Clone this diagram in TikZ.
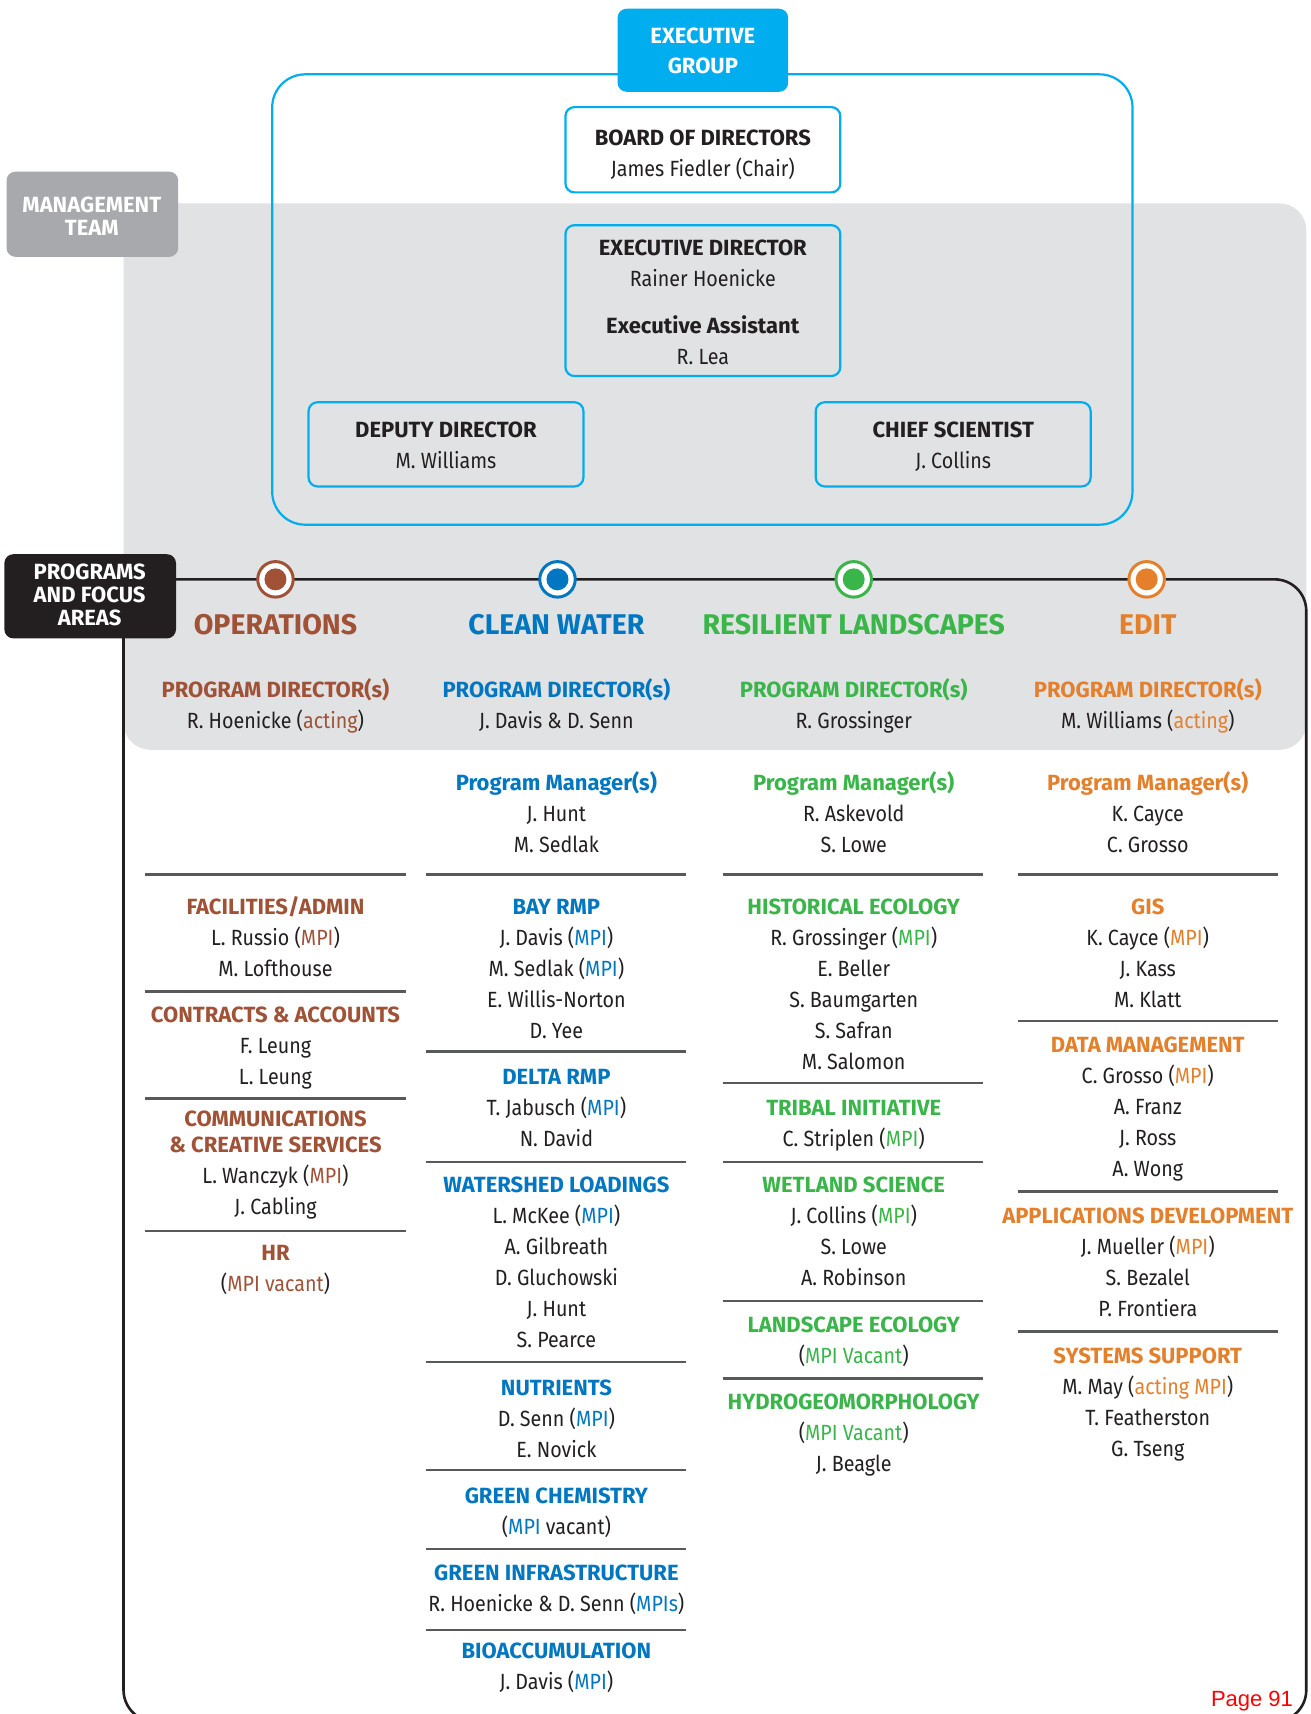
\documentclass[tikz,border=0pt]{standalone}
\usepackage{fontspec}
\setmainfont{Fira Sans}[UprightFeatures={FakeStretch=0.895}, BoldFeatures={FakeStretch=1.0}]
\newfontfamily\pagefont{Liberation Sans}
\definecolor{cyanx}{RGB}{0,174,239}
\definecolor{ops}{RGB}{160,82,55}
\definecolor{cw}{RGB}{0,119,192}
\definecolor{rl}{RGB}{57,181,74}
\definecolor{ed}{RGB}{228,128,44}
\definecolor{band}{RGB}{225,226,228}
\definecolor{mgmt}{RGB}{167,169,172}
\definecolor{ink}{RGB}{35,31,32}
\definecolor{sepc}{RGB}{88,89,91}
\newcommand\fbody{\fontsize{22}{31}\selectfont}
\newcommand\fwhite{\bfseries\fontsize{22}{23}\selectfont}
\newcommand\ftitle{\bfseries\fontsize{28.5}{31}\selectfont}
\newcommand\st{\rule{0pt}{24pt}}
\newcommand\hd[2]{\textcolor{#1}{\bfseries #2}}
\newcommand\mpiof[1]{\textcolor{#1}{MPI}}
\begin{document}
\begin{tikzpicture}[x=1.0934pt,y=-1.0934pt,
  blk/.style={anchor=north, inner sep=0pt, align=center, font=\fbody, text=ink, yshift=24pt},
  ttl/.style={anchor=north, inner sep=0pt, align=center, font=\ftitle, yshift=24pt},
  wbox/.style={draw=cyanx, line width=2.2pt, rounded corners=9pt, inner sep=0pt, minimum width=275pt},
  sepline/.style={draw=sepc, line width=2.2pt},
  ring/.style={circle, draw=#1, line width=3pt, fill=white, minimum size=35.5pt, inner sep=0pt},
  dot/.style={circle, fill=#1, minimum size=22pt, inner sep=0pt}]
\useasboundingbox (0,0) rectangle (1199,1568);
\clip (0,0) rectangle (1199,1568);
\fill[white] (0,0) rectangle (1199,1568);

% grey band
\fill[band, rounded corners=27pt] (113,186) rectangle (1195,686);

% outer executive frame
\draw[cyanx, line width=2.2pt, rounded corners=33pt] (249,68) rectangle (1036,480);

% programs frame
\draw[ink, line width=2.6pt, rounded corners=31.7pt] (113,530) rectangle (1195,1575);

% executive group
\node[fill=cyanx, rounded corners=9pt, minimum width=170.6pt, minimum height=83.1pt, inner sep=0pt] (eg) at (643,46) {};
\node[blk, text=white, font=\fwhite] (egt) at (643,40) {\st EXECUTIVE\\[6.5pt]GROUP};

% boxes
\node[wbox, fill=white, minimum height=85.3pt] (board) at (643,137) {};
\node[wbox, minimum height=150.9pt] (exec) at (643,275) {};
\node[wbox, minimum height=84.2pt] (dep) at (408,406.5) {};
\node[wbox, minimum height=84.2pt] (chief) at (872,406.5) {};

\node[blk] (boardt) at (643,133) {\st\textbf{BOARD OF DIRECTORS}\\James Fiedler (Chair)};
\node[blk] (exect) at (643,234) {\st\textbf{EXECUTIVE DIRECTOR}\\Rainer Hoenicke\\[15.3pt]\textbf{Executive Assistant}\\R. Lea};
\node[blk] (dept) at (408,400) {\st\textbf{DEPUTY DIRECTOR}\\M. Williams};
\node[blk] (chieft) at (872,400) {\st\textbf{CHIEF SCIENTIST}\\J. Collins};

% side labels
\node[fill=mgmt, rounded corners=9pt, minimum width=171.7pt, minimum height=85.3pt, inner sep=0pt] (mg) at (84.5,196) {};
\node[blk, text=white, font=\fwhite] (mgt) at (84,194) {\st MANAGEMENT\\TEAM};
\node[fill=ink, rounded corners=9pt, minimum width=171.7pt, minimum height=84.2pt, inner sep=0pt] (pg) at (82.5,545.5) {};
\node[blk, text=white, font=\fwhite] (pgt) at (82,530) {\st PROGRAMS\\AND FOCUS\\AREAS};

% circles
\node[ring=ops] (c1) at (252,530) {}; \node[dot=ops] (d1) at (c1) {};
\node[ring=cw] (c2) at (510,530) {}; \node[dot=cw] (d2) at (c2) {};
\node[ring=rl] (c3) at (781,530) {}; \node[dot=rl] (d3) at (c3) {};
\node[ring=ed] (c4) at (1049,530) {}; \node[dot=ed] (d4) at (c4) {};

% titles
\node[ttl, text=ops] (t1) at (252,580) {\st OPERATIONS};
\node[ttl, text=cw] (t2) at (509,580) {\st CLEAN WATER};
\node[ttl, text=rl] (t3) at (781,580) {\st RESILIENT LANDSCAPES};
\node[ttl, text=ed] (t4) at (1050,580) {\st EDIT};

% program directors
\node[blk] (pd1) at (252,638) {\st\hd{ops}{PROGRAM DIRECTOR(s)}\\R. Hoenicke (\textcolor{ops}{acting})};
\node[blk] (pd2) at (509,638) {\st\hd{cw}{PROGRAM DIRECTOR(s)}\\J. Davis \& D. Senn};
\node[blk] (pd3) at (781,638) {\st\hd{rl}{PROGRAM DIRECTOR(s)}\\R. Grossinger};
\node[blk] (pd4) at (1050,638) {\st\hd{ed}{PROGRAM DIRECTOR(s)}\\M. Williams (\textcolor{ed}{acting})};

% program managers
\node[blk] (pm2) at (509,723) {\st\hd{cw}{Program Manager(s)}\\J. Hunt\\M. Sedlak};
\node[blk] (pm3) at (781,723) {\st\hd{rl}{Program Manager(s)}\\R. Askevold\\S. Lowe};
\node[blk] (pm4) at (1050,723) {\st\hd{ed}{Program Manager(s)}\\K. Cayce\\C. Grosso};

% separators
\foreach \y in {800,907,1005,1126} \draw[sepline] (133,\y) -- (371,\y);
\foreach \y in {800,962,1063,1246,1345,1417,1491} \draw[sepline] (390,\y) -- (628,\y);
\foreach \y in {800,991,1063,1190,1261} \draw[sepline] (661,\y) -- (899,\y);
\foreach \y in {800,934,1090,1218} \draw[sepline] (931,\y) -- (1169,\y);

% operations
\node[blk] (o1) at (252,836) {\st\hd{ops}{FACILITIES/ADMIN}\\L. Russio (\mpiof{ops})\\M. Lofthouse};
\node[blk] (o2) at (252,935) {\st\hd{ops}{CONTRACTS \& ACCOUNTS}\\F. Leung\\L. Leung};
\node[blk] (o3) at (252,1030) {\st\hd{ops}{COMMUNICATIONS}\\[-4.4pt]\hd{ops}{\& CREATIVE SERVICES}\\L. Wanczyk (\mpiof{ops})\\J. Cabling};
\node[blk] (o4) at (252,1153) {\st\hd{ops}{HR}\\(\textcolor{ops}{MPI vacant})};

% clean water
\node[blk] (w1) at (509,836) {\st\hd{cw}{BAY RMP}\\J. Davis (\mpiof{cw})\\M. Sedlak (\mpiof{cw})\\E. Willis-Norton\\D. Yee};
\node[blk] (w2) at (509,992) {\st\hd{cw}{DELTA RMP}\\T. Jabusch (\mpiof{cw})\\N. David};
\node[blk] (w3) at (509,1091) {\st\hd{cw}{WATERSHED LOADINGS}\\L. McKee (\mpiof{cw})\\A. Gilbreath\\D. Gluchowski\\J. Hunt\\S. Pearce};
\node[blk] (w4) at (509,1276) {\st\hd{cw}{NUTRIENTS}\\D. Senn (\mpiof{cw})\\E. Novick};
\node[blk] (w5) at (509,1375) {\st\hd{cw}{GREEN CHEMISTRY}\\(\mpiof{cw} vacant)};
\node[blk] (w6) at (509,1446) {\st\hd{cw}{GREEN INFRASTRUCTURE}\\R. Hoenicke \& D. Senn (\textcolor{cw}{MPIs})};
\node[blk] (w7) at (509,1517) {\st\hd{cw}{BIOACCUMULATION}\\J. Davis (\mpiof{cw})};

% resilient landscapes
\node[blk] (r1) at (781,836) {\st\hd{rl}{HISTORICAL ECOLOGY}\\R. Grossinger (\mpiof{rl})\\E. Beller\\S. Baumgarten\\S. Safran\\M. Salomon};
\node[blk] (r2) at (781,1020) {\st\hd{rl}{TRIBAL INITIATIVE}\\C. Striplen (\mpiof{rl})};
\node[blk] (r3) at (781,1091) {\st\hd{rl}{WETLAND SCIENCE}\\J. Collins (\mpiof{rl})\\S. Lowe\\A. Robinson};
\node[blk] (r4) at (781,1219) {\st\hd{rl}{LANDSCAPE ECOLOGY}\\(\textcolor{rl}{MPI Vacant})};
\node[blk] (r5) at (781,1289) {\st\hd{rl}{HYDROGEOMORPHOLOGY}\\(\textcolor{rl}{MPI Vacant})\\J. Beagle};

% edit
\node[blk] (e1) at (1050,836) {\st\hd{ed}{GIS}\\K. Cayce (\mpiof{ed})\\J. Kass\\M. Klatt};
\node[blk] (e2) at (1050,963) {\st\hd{ed}{DATA MANAGEMENT}\\C. Grosso (\mpiof{ed})\\A. Franz\\J. Ross\\A. Wong};
\node[blk] (e3) at (1050,1119) {\st\hd{ed}{APPLICATIONS DEVELOPMENT}\\J. Mueller (\mpiof{ed})\\S. Bezalel\\P. Frontiera};
\node[blk] (e4) at (1050,1247) {\st\hd{ed}{SYSTEMS SUPPORT}\\M. May (\textcolor{ed}{acting MPI})\\T. Featherston\\G. Tseng};

% page number
\node[anchor=base east, inner sep=0pt, text=red, font=\pagefont\fontsize{22}{24}\selectfont] (pn) at (1183,1561) {Page 91};
\end{tikzpicture}
\end{document}
